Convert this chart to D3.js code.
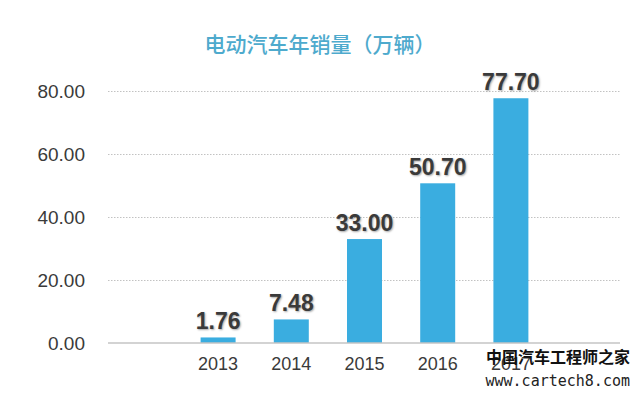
<!DOCTYPE html>
<html>
<head>
<meta charset="utf-8">
<script src="https://cdn.jsdelivr.net/npm/d3@7/dist/d3.min.js"></script>
<style>
  body { margin: 0; background: #fff; }
  text { font-family: "Liberation Sans", Arial, sans-serif; }
  .value { text-shadow: 1px 1px 2px rgba(0,0,0,0.35); }
</style>
</head>
<body>
<svg id="chart" width="640" height="394"></svg>
<script>
// Data.
var years = ['2013', '2014', '2015', '2016', '2017'];
var sales = [1.76, 7.48, 33.00, 50.70, 77.70];
var yTicks = [0, 20, 40, 60, 80];
var TITLE = '电动汽车年销量（万辆）';

var svg = d3.select('#chart');

var x = d3.scaleBand()
  .domain(years)
  .range([181.5, 547.5])
  .paddingInner(0.522)
  .paddingOuter(0.261);

var y = d3.scaleLinear()
  .domain([0, 80])
  .range([343, 91]);

// Title
svg.append('text')
  .attr('x', 320)
  .attr('y', 52)
  .attr('text-anchor', 'middle')
  .attr('font-size', 21)
  .attr('font-weight', 500)
  .attr('fill', '#4eaacd')
  .style('font-family', '"Noto Sans CJK SC", sans-serif')
  .text(TITLE);

// Gridlines + y labels
var yAxis = d3.axisLeft(y)
  .tickValues(yTicks)
  .tickSize(-512)
  .tickPadding(23)
  .tickFormat(d3.format('.2f'));

var gy = svg.append('g')
  .attr('transform', 'translate(108,0)')
  .call(yAxis);
gy.select('.domain').remove();
gy.selectAll('.tick line')
  .attr('stroke', '#c2c2c2')
  .attr('stroke-dasharray', '1.5,1.5')
  .filter(function(d){ return d === 0; }).remove();
gy.selectAll('.tick text')
  .attr('font-size', 19)
  .attr('fill', '#3a3a3a')
  .style('font-family', '"Liberation Sans", Arial, sans-serif');

// Bars
svg.selectAll('rect.bar')
  .data(sales)
  .enter()
  .append('rect')
  .attr('class', 'bar')
  .attr('x', function(d, i){ return x(years[i]); })
  .attr('y', function(d){ return y(d); })
  .attr('width', x.bandwidth())
  .attr('height', function(d){ return y(0) - y(d); })
  .attr('fill', '#3aade0');

// Baseline
svg.append('line')
  .attr('x1', 108).attr('x2', 620)
  .attr('y1', y(0)).attr('y2', y(0))
  .attr('stroke', '#c4c4c4')
  .attr('stroke-width', 1.5);

// Value labels
svg.selectAll('text.value')
  .data(sales)
  .enter()
  .append('text')
  .attr('class', 'value')
  .attr('x', function(d, i){ return x(years[i]) + x.bandwidth() / 2; })
  .attr('y', function(d){ return y(d) - 8; })
  .attr('text-anchor', 'middle')
  .attr('font-size', 23)
  .attr('font-weight', 'bold')
  .attr('fill', '#3a3a3a')
  .text(function(d){ return d3.format('.2f')(d); });

// X labels
var gx = svg.append('g')
  .attr('transform', 'translate(0,' + y(0) + ')')
  .call(d3.axisBottom(x).tickSize(0).tickPadding(14));
gx.select('.domain').remove();
gx.selectAll('.tick text')
  .attr('font-size', 18)
  .attr('fill', '#3a3a3a')
  .style('font-family', '"Liberation Sans", Arial, sans-serif');

// Watermark
svg.append('text')
  .attr('x', 630).attr('y', 363)
  .attr('text-anchor', 'end')
  .attr('font-size', 16)
  .attr('font-weight', 'bold')
  .attr('fill', '#111')
  .style('font-family', '"Noto Sans CJK SC", serif')
  .text('中国汽车工程师之家');
svg.append('text')
  .attr('x', 630).attr('y', 386)
  .attr('text-anchor', 'end')
  .attr('font-size', 15)
  .attr('fill', '#222')
  .style('font-family', '"DejaVu Sans Mono", monospace')
  .text('www.cartech8.com');
</script>
</body>
</html>
